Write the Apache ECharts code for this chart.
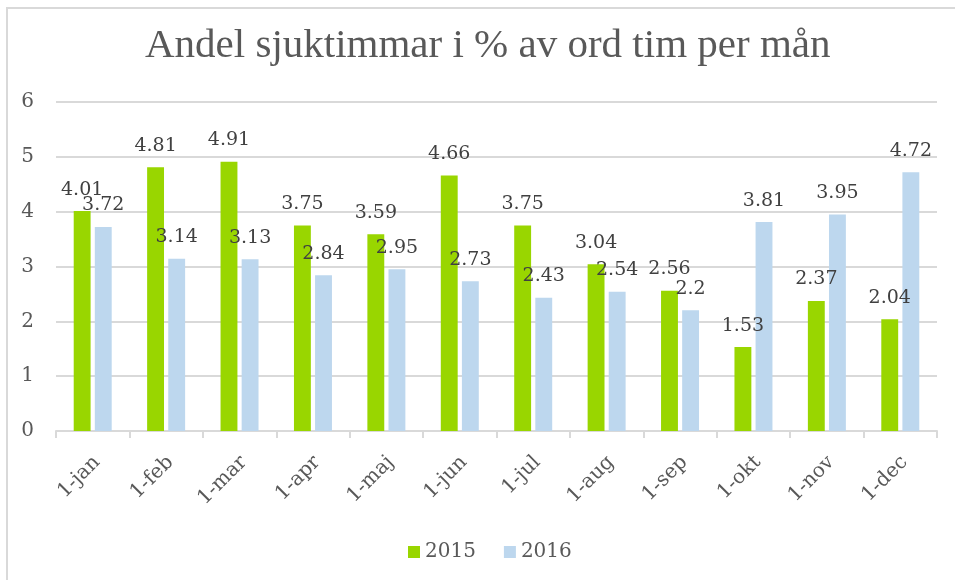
<!DOCTYPE html>
<html>
<head>
<meta charset="utf-8">
<script src="https://cdn.jsdelivr.net/npm/echarts@6/dist/echarts.min.js"></script>
<style>
  html, body { margin: 0; padding: 0; background: #fff; }
  #chart { width: 955px; height: 580px; }
</style>
</head>
<body>
<div id="chart"></div>
<script>
// Monthly share of sick hours (% of ordinary hours)
const months = ['1-jan', '1-feb', '1-mar', '1-apr', '1-maj', '1-jun', '1-jul', '1-aug', '1-sep', '1-okt', '1-nov', '1-dec'];
const values2015 = [4.01, 4.81, 4.91, 3.75, 3.59, 4.66, 3.75, 3.04, 2.56, 1.53, 2.37, 2.04];
const values2016 = [3.72, 3.14, 3.13, 2.84, 2.95, 2.73, 2.43, 2.54, 2.2, 3.81, 3.95, 4.72];
const yTicks = [0, 1, 2, 3, 4, 5, 6];

const serif = 'DejaVu Serif';
const textGrey = '#595959';
const gridGrey = '#D9D9D9';

const chart = echarts.init(document.getElementById('chart'), null, { renderer: 'canvas' });

const barLabel = {
  show: true,
  position: 'top',
  distance: 12,
  fontFamily: serif,
  fontSize: 19,
  color: '#404040',
  formatter: p => String(p.value)
};

chart.setOption({
  animation: false,
  backgroundColor: '#fff',
  graphic: [{
    type: 'rect',
    shape: { x: 7, y: 8, width: 1200, height: 900 },
    style: { fill: 'none', stroke: gridGrey, lineWidth: 2 },
    silent: true
  }],
  title: {
    text: 'Andel sjuktimmar i % av ord tim per mån',
    left: 145,
    top: 26,
    padding: 0,
    textStyle: { fontFamily: 'Liberation Serif', fontSize: 41, fontWeight: 'normal', color: textGrey }
  },
  legend: {
    bottom: 13,
    left: 403,
    icon: 'rect',
    itemWidth: 12,
    itemHeight: 12,
    itemGap: 28,
    textStyle: { fontFamily: serif, fontSize: 20, color: textGrey },
    data: ['2015', '2016']
  },
  grid: { left: 56, right: 18, top: 102, bottom: 149, containLabel: false },
  xAxis: {
    type: 'category',
    data: months,
    axisLine: { lineStyle: { color: gridGrey, width: 2 } },
    axisTick: { show: true, length: 7, lineStyle: { color: gridGrey, width: 2 } },
    axisLabel: {
      rotate: 45, margin: 24, verticalAlign: 'top', lineHeight: 12,
      fontFamily: serif, fontSize: 20, color: textGrey, interval: 0
    }
  },
  yAxis: {
    type: 'value',
    min: yTicks[0],
    max: yTicks[yTicks.length - 1],
    interval: 1,
    axisLine: { show: false },
    axisTick: { show: false },
    splitLine: { lineStyle: { color: gridGrey, width: 2 } },
    axisLabel: { margin: 22, fontFamily: serif, fontSize: 20, color: textGrey }
  },
  series: [
    {
      name: '2015',
      type: 'bar',
      data: values2015,
      barWidth: '23%',
      barGap: '25%',
      itemStyle: { color: '#99D600' },
      label: barLabel
    },
    {
      name: '2016',
      type: 'bar',
      data: values2016,
      barWidth: '23%',
      itemStyle: { color: '#BDD7EE' },
      label: barLabel
    }
  ]
});
</script>
</body>
</html>
